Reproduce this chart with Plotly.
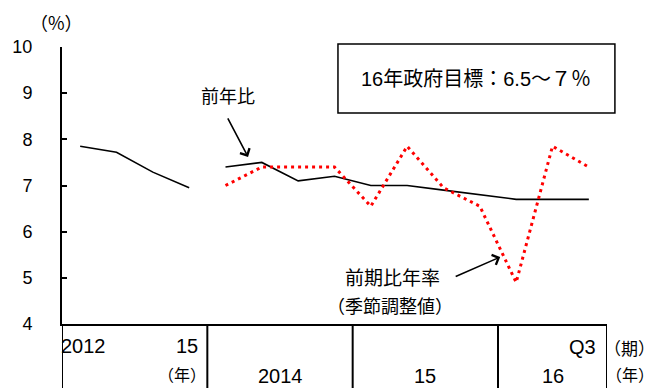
import plotly.graph_objects as go

# ---- data -------------------------------------------------------------
# category slots: 2012-2015 annual, then 2014Q1 .. 2016Q3 quarterly
annual_x = [0, 1, 2, 3]
annual_yoy = [7.85, 7.72, 7.29, 6.95]

quarter_x = [4, 5, 6, 7, 8, 9, 10, 11, 12, 13, 14]
quarter_yoy = [7.4, 7.5, 7.1, 7.2, 7.0, 7.0, 6.9, 6.8, 6.7, 6.7, 6.7]
quarter_saar = [7.0, 7.4, 7.4, 7.4, 6.55, 7.85, 6.95, 6.55, 4.9, 7.85, 7.4]

y_ticks = [4, 5, 6, 7, 8, 9, 10]
section_bounds = [-0.5, 3.5, 7.5, 11.5, 14.5]
year_labels = ["2014", "15", "16"]
year_label_x = [5.5, 9.5, 13.0]

# ---- layout geometry --------------------------------------------------
W, H = 660, 388
ML, MR, MT, MB = 56, 53, 47, 64
PW, PH = W - ML - MR, H - MT - MB

CJK = "Noto Sans CJK JP"
MIXED = "Liberation Sans, Noto Sans CJK JP"
PLAIN = "Liberation Sans, Arial, sans-serif"


def px(p):
    return (p - ML) / PW


def py(p):
    return (H - MB - p) / PH


fig = go.Figure()

fig.add_trace(go.Scatter(
    x=annual_x, y=annual_yoy, mode="lines",
    line=dict(color="black", width=1.6), hoverinfo="skip"))
fig.add_trace(go.Scatter(
    x=quarter_x, y=quarter_yoy, mode="lines",
    line=dict(color="black", width=1.6), hoverinfo="skip"))
fig.add_trace(go.Scatter(
    x=quarter_x, y=quarter_saar, mode="lines",
    line=dict(color="#ff0000", width=3, dash="3px,4px"), hoverinfo="skip"))

shapes = []
# table below the x axis
for b in section_bounds:
    shapes.append(dict(type="line", xref="x", yref="paper",
                       x0=b, x1=b, y0=0, y1=py(H + 5),
                       line=dict(color="black", width=2)))
# target box
shapes.append(dict(type="rect", xref="paper", yref="paper",
                   x0=px(335), x1=px(615), y0=py(44), y1=py(113),
                   line=dict(color="black", width=1.5), fillcolor="white"))

annotations = []


def label(text, x, y, size, family=MIXED, xanchor="center"):
    annotations.append(dict(text=text, xref="paper", yref="paper",
                            x=px(x), y=py(y), xanchor=xanchor, yanchor="middle",
                            showarrow=False,
                            font=dict(family=family, size=size, color="black")))


label("（%）", 50, 22, 18, family=CJK)
label("16年政府目標：6.5～７％", 475, 79, 20)
label("前年比", 224, 95, 18, family=CJK)
label("前期比年率", 390, 276, 19, family=CJK)
label("（季節調整値）", 388, 305, 18, family=CJK)

# axis category labels
label("2012", 53, 346, 20, xanchor="left")
label("15", 196, 346, 20, xanchor="right")
label("（年）", 177, 374, 16, family=CJK)
for t, xv in zip(year_labels, year_label_x):
    annotations.append(dict(text=t, xref="x", yref="paper", x=xv, y=py(376),
                            xanchor="center", yanchor="middle", showarrow=False,
                            font=dict(family=PLAIN, size=20, color="black")))
label("Q3", 598, 347, 20, xanchor="right")
label("（期）", 630, 347, 17, family=CJK)
label("（年）", 630, 374, 16, family=CJK)

# pointer arrows
annotations.append(dict(x=4.62, y=7.62, xref="x", yref="y", text="",
                        showarrow=True, axref="pixel", ayref="pixel",
                        ax=-21, ay=-40, arrowhead=4, arrowsize=1.3,
                        arrowwidth=1.6, arrowcolor="black"))
annotations.append(dict(x=11.56, y=5.45, xref="x", yref="y", text="",
                        showarrow=True, axref="pixel", ayref="pixel",
                        ax=-46, ay=20, arrowhead=4, arrowsize=1.3,
                        arrowwidth=1.6, arrowcolor="black"))

fig.update_layout(
    width=W, height=H,
    margin=dict(l=ML, r=MR, t=MT, b=MB, pad=0),
    plot_bgcolor="white", paper_bgcolor="white",
    showlegend=False,
    shapes=shapes, annotations=annotations,
    xaxis=dict(range=[-0.5, 14.5], showgrid=False, zeroline=False,
               showticklabels=False, ticks="",
               showline=True, linecolor="black", linewidth=2),
    yaxis=dict(range=[4, 10], tickvals=y_ticks, showgrid=False, zeroline=False,
               showline=True, linecolor="black", linewidth=2,
               ticks="inside", ticklen=5, tickwidth=1.5, tickcolor="black",
               ticklabelstandoff=24,
               tickfont=dict(family=PLAIN, size=18, color="black")),
)

fig.write_html("out.html", config={"displayModeBar": False})
